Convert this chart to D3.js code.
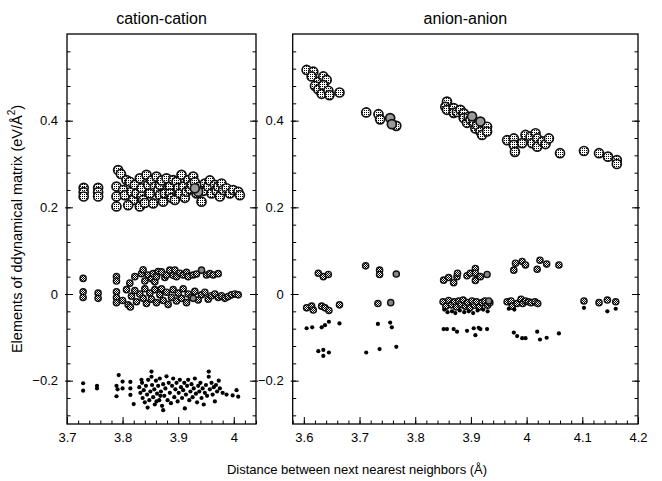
<!DOCTYPE html>
<html>
<head>
<meta charset="utf-8">
<script src="https://cdn.jsdelivr.net/npm/d3@7"></script>
<style>
  body { margin: 0; background: #fff; }
  svg { display: block; font-family: "Liberation Sans", Arial, sans-serif; }
</style>
</head>
<body>
<div id="chart"></div>
<script>
// ---- data: [distance (Å), matrix element (eV/Å^2)] ----
var cationLarge = [
  [3.730,0.245],[3.730,0.235],[3.730,0.225],[3.756,0.245],[3.756,0.235],[3.756,0.225],
  [3.792,0.286],[3.797,0.277],[3.789,0.248],[3.789,0.225],[3.789,0.202],[3.801,0.240],
  [3.804,0.228],[3.807,0.263],[3.813,0.259],[3.816,0.236],[3.819,0.217],[3.822,0.252],
  [3.825,0.232],[3.810,0.205],[3.831,0.267],[3.831,0.202],[3.834,0.244],[3.834,0.225],
  [3.837,0.217],[3.840,0.210],[3.843,0.275],[3.846,0.252],[3.849,0.232],[3.852,0.262],
  [3.855,0.209],[3.858,0.248],[3.861,0.271],[3.864,0.240],[3.867,0.252],[3.867,0.228],
  [3.870,0.262],[3.873,0.213],[3.876,0.232],[3.879,0.267],[3.885,0.248],[3.885,0.232],
  [3.888,0.222],[3.891,0.263],[3.894,0.217],[3.897,0.259],[3.900,0.245],[3.903,0.232],
  [3.906,0.275],[3.909,0.248],[3.912,0.222],[3.915,0.236],[3.918,0.263],[3.921,0.242],
  [3.924,0.252],[3.927,0.271],[3.930,0.258],[3.933,0.232],[3.939,0.248],[3.942,0.213],
  [3.945,0.238],[3.948,0.255],[3.954,0.248],[3.957,0.262],[3.960,0.232],[3.966,0.252],
  [3.969,0.238],[3.972,0.248],[3.975,0.225],[3.978,0.255],[3.981,0.240],[3.987,0.244],
  [3.993,0.232],[3.999,0.240],[4.008,0.236],[4.011,0.228]
];
var cationLargeGrey = [[3.936,0.236],[3.930,0.244]];
var cationMedium = [
  [3.729,0.036],[3.789,0.040],[3.789,0.030],[3.813,0.025],[3.822,0.040],[3.834,0.047],
  [3.837,0.056],[3.840,0.030],[3.846,0.044],[3.852,0.035],[3.855,0.047],[3.858,0.028],
  [3.861,0.040],[3.864,0.052],[3.870,0.051],[3.876,0.038],[3.879,0.044],[3.885,0.055],
  [3.891,0.043],[3.894,0.055],[3.897,0.040],[3.903,0.048],[3.909,0.044],[3.915,0.050],
  [3.918,0.040],[3.927,0.044],[3.933,0.046],[3.951,0.044],[3.957,0.047],[3.963,0.044],
  [3.972,0.047],
  [3.729,0.005],[3.729,-0.008],[3.756,0.002],[3.756,-0.010],[3.789,0.005],[3.789,-0.008],
  [3.789,-0.020],[3.800,-0.015],[3.807,0.010],[3.810,-0.025],[3.814,-0.030],[3.816,-0.005],
  [3.822,0.008],[3.825,-0.018],[3.831,0.000],[3.837,-0.010],[3.840,0.012],[3.843,-0.022],
  [3.849,0.002],[3.852,-0.012],[3.858,0.010],[3.861,-0.020],[3.867,-0.002],[3.870,0.012],
  [3.873,-0.015],[3.879,0.004],[3.882,-0.024],[3.888,-0.008],[3.891,0.010],[3.897,-0.016],
  [3.900,0.002],[3.906,-0.010],[3.909,0.012],[3.915,-0.020],[3.918,0.000],[3.924,-0.008],
  [3.930,0.006],[3.936,-0.014],[3.942,-0.002],[3.948,0.004],[3.954,-0.012],[3.960,-0.004],
  [3.966,0.000],[3.972,-0.008],[3.978,-0.004],[3.984,-0.010],[3.990,-0.006],[3.996,-0.002],
  [4.002,0.000],[4.008,-0.002]
];
var cationMediumGrey = [[3.942,0.055],[3.927,-0.010]];
var cationDots = [
  [3.729,-0.206],[3.729,-0.223],[3.754,-0.212],[3.754,-0.218],[3.789,-0.212],[3.791,-0.220],
  [3.789,-0.236],[3.793,-0.187],[3.800,-0.202],[3.800,-0.218],[3.814,-0.203],[3.814,-0.218],
  [3.814,-0.233],[3.820,-0.254],[3.830,-0.215],[3.832,-0.228],[3.834,-0.198],[3.835,-0.205],
  [3.836,-0.240],[3.838,-0.222],[3.840,-0.250],[3.842,-0.212],[3.844,-0.232],[3.845,-0.262],
  [3.846,-0.198],[3.848,-0.245],[3.850,-0.225],[3.852,-0.179],[3.852,-0.191],[3.853,-0.210],
  [3.855,-0.238],[3.857,-0.220],[3.858,-0.255],[3.860,-0.200],[3.861,-0.248],[3.862,-0.230],
  [3.864,-0.212],[3.866,-0.245],[3.867,-0.195],[3.868,-0.235],[3.869,-0.225],[3.871,-0.258],
  [3.873,-0.268],[3.873,-0.208],[3.875,-0.235],[3.877,-0.218],[3.879,-0.190],[3.881,-0.245],
  [3.883,-0.205],[3.885,-0.228],[3.887,-0.252],[3.889,-0.212],[3.891,-0.195],[3.893,-0.238],
  [3.895,-0.220],[3.897,-0.205],[3.899,-0.248],[3.901,-0.228],[3.903,-0.198],[3.905,-0.215],
  [3.907,-0.240],[3.909,-0.222],[3.911,-0.205],[3.912,-0.264],[3.914,-0.232],[3.916,-0.212],
  [3.918,-0.198],[3.920,-0.245],[3.922,-0.225],[3.924,-0.208],[3.926,-0.238],[3.928,-0.218],
  [3.930,-0.195],[3.932,-0.230],[3.934,-0.250],[3.936,-0.212],[3.938,-0.225],[3.940,-0.205],
  [3.942,-0.240],[3.944,-0.218],[3.946,-0.255],[3.948,-0.228],[3.950,-0.210],[3.952,-0.235],
  [3.955,-0.179],[3.955,-0.191],[3.957,-0.220],[3.960,-0.205],[3.962,-0.232],[3.964,-0.215],
  [3.966,-0.248],[3.968,-0.210],[3.970,-0.225],[3.973,-0.200],[3.975,-0.218],[3.980,-0.228],
  [3.987,-0.232],[3.998,-0.234],[4.005,-0.222],[4.008,-0.237]
];

var anionLarge = [
  [3.605,0.517],[3.617,0.513],[3.614,0.502],[3.626,0.490],[3.635,0.502],[3.641,0.494],
  [3.620,0.480],[3.626,0.472],[3.635,0.482],[3.632,0.462],[3.644,0.469],[3.646,0.459],
  [3.664,0.465],[3.712,0.419],[3.734,0.415],[3.737,0.403],[3.766,0.388],
  [3.857,0.444],[3.854,0.432],[3.857,0.425],[3.869,0.429],[3.869,0.418],[3.875,0.420],
  [3.881,0.425],[3.887,0.417],[3.887,0.406],[3.893,0.395],[3.896,0.409],[3.899,0.402],
  [3.905,0.394],[3.908,0.382],[3.911,0.390],[3.917,0.375],[3.920,0.367],[3.929,0.386],
  [3.929,0.375],
  [3.965,0.355],[3.977,0.359],[3.977,0.344],[3.979,0.328],[3.992,0.348],[3.998,0.367],
  [4.007,0.363],[4.010,0.348],[4.016,0.371],[4.019,0.359],[4.019,0.340],[4.028,0.352],
  [4.034,0.346],[4.040,0.359],[4.060,0.325],[4.103,0.330],[4.130,0.325],[4.146,0.317],
  [4.162,0.309],[4.162,0.300]
];
var anionLargeGrey = [[3.755,0.406],[3.758,0.392],[3.917,0.398],[3.902,0.410]];
var anionMedium = [
  [3.626,0.048],[3.635,0.040],[3.644,0.045],[3.711,0.065],[3.736,0.055],[3.736,0.045],
  [3.851,0.032],[3.860,0.038],[3.869,0.026],[3.875,0.040],[3.876,0.048],[3.893,0.042],
  [3.899,0.048],[3.908,0.059],[3.908,0.048],[3.908,0.031],[3.917,0.040],[3.977,0.055],
  [3.980,0.071],[3.992,0.075],[3.998,0.067],[4.019,0.057],[4.024,0.078],[4.036,0.069],
  [4.058,0.067],
  [3.605,-0.032],[3.614,-0.028],[3.617,-0.037],[3.632,-0.028],[3.638,-0.032],[3.645,-0.038],
  [3.664,-0.025],[3.733,-0.022],[3.850,-0.018],[3.855,-0.028],[3.860,-0.015],[3.865,-0.025],
  [3.870,-0.018],[3.874,-0.030],[3.878,-0.016],[3.882,-0.024],[3.886,-0.014],[3.890,-0.028],
  [3.894,-0.020],[3.898,-0.032],[3.902,-0.016],[3.906,-0.026],[3.910,-0.018],[3.915,-0.030],
  [3.920,-0.020],[3.925,-0.016],[3.930,-0.026],[3.934,-0.020],[3.965,-0.018],[3.972,-0.016],
  [3.974,-0.028],[3.983,-0.022],[3.990,-0.012],[3.993,-0.022],[3.998,-0.016],[4.003,-0.018],
  [4.008,-0.020],[4.015,-0.018],[4.020,-0.022],[4.103,-0.016],[4.130,-0.020],[4.145,-0.014],
  [4.160,-0.018]
];
var anionMediumGrey = [[3.766,0.046],[3.929,0.045],[3.756,-0.020],[3.932,-0.016]];
var anionDots = [
  [3.605,-0.079],[3.615,-0.077],[3.632,-0.077],[3.638,-0.072],[3.645,-0.064],[3.664,-0.068],
  [3.733,-0.069],[3.755,-0.066],[3.758,-0.077],[3.626,-0.132],[3.635,-0.129],[3.645,-0.135],
  [3.635,-0.143],[3.712,-0.135],[3.736,-0.127],[3.766,-0.122],
  [3.851,-0.081],[3.857,-0.081],[3.869,-0.081],[3.875,-0.087],[3.893,-0.085],[3.905,-0.079],
  [3.908,-0.095],[3.914,-0.078],[3.917,-0.081],[3.929,-0.081],[3.977,-0.089],[3.983,-0.097],
  [3.992,-0.102],[3.998,-0.102],[4.019,-0.087],[4.024,-0.105],[4.036,-0.101],[4.058,-0.091],
  [3.852,-0.036],[3.858,-0.042],[3.866,-0.040],[3.872,-0.044],[3.880,-0.038],[3.888,-0.042],
  [3.896,-0.040],[3.904,-0.044],[3.912,-0.038],[3.922,-0.036],[3.930,-0.040],[3.968,-0.034],
  [3.978,-0.036],[4.103,-0.032],[4.145,-0.040],[4.160,-0.034]
];

var yMajor = [-0.2, 0, 0.2, 0.4];
var leftXMajor = [3.7, 3.8, 3.9, 4.0];
var rightXMajor = [3.6, 3.7, 3.8, 3.9, 4.0, 4.1, 4.2];

var width = 662, height = 481;
var plotTop = 34, plotBottom = 424;

const svg = d3.select("#chart")
  .append("svg")
  .attr("width", width)
  .attr("height", height);

// fill patterns for the two kinds of open markers
var defs = svg.append("defs");
var pLight = defs.append("pattern")
  .attr("id", "dotFill").attr("patternUnits", "userSpaceOnUse")
  .attr("width", 2).attr("height", 2);
pLight.append("rect").attr("width", 2).attr("height", 2).attr("fill", "#fff");
pLight.append("rect").attr("width", 1).attr("height", 1).attr("fill", "#000");

var pDark = defs.append("pattern")
  .attr("id", "checkFill").attr("patternUnits", "userSpaceOnUse")
  .attr("width", 2).attr("height", 2);
pDark.append("rect").attr("width", 2).attr("height", 2).attr("fill", "#fff");
pDark.append("rect").attr("width", 1).attr("height", 1).attr("fill", "#000");
pDark.append("rect").attr("x", 1).attr("y", 1).attr("width", 1).attr("height", 1).attr("fill", "#000");

var y = d3.scaleLinear().domain([-0.3, 0.6]).range([plotBottom, plotTop]);
var yMinor = d3.range(-0.28, 0.59, 0.04);

function drawPanel(x0, x1, domain, xMajor, title, sets) {
  var x = d3.scaleLinear().domain(domain).range([x0, x1]);
  var g = svg.append("g");
  var xMinor = d3.range(Math.ceil(domain[0] / 0.02 - 1e-6) * 0.02, domain[1] + 1e-6, 0.02);

  // minor ticks
  g.append("g").attr("transform", `translate(0,${plotBottom})`)
    .call(d3.axisBottom(x).tickValues(xMinor).tickSize(-3.5).tickFormat(""));
  g.append("g").attr("transform", `translate(${x0},0)`)
    .call(d3.axisLeft(y).tickValues(yMinor).tickSize(-3.5).tickFormat(""));
  g.append("g").attr("transform", `translate(${x1},0)`)
    .call(d3.axisRight(y).tickValues(yMinor).tickSize(-3.5).tickFormat(""));

  // major ticks with labels
  g.append("g").attr("transform", `translate(0,${plotBottom})`)
    .call(d3.axisBottom(x).tickValues(xMajor).tickSize(-7).tickPadding(9).tickFormat(d3.format("")));
  var ya = g.append("g").attr("transform", `translate(${x0},0)`)
    .call(d3.axisLeft(y).tickValues(yMajor).tickSize(-6).tickPadding(9).tickFormat(d3.format("")));
  var yr = g.append("g").attr("transform", `translate(${x1},0)`)
    .call(d3.axisRight(y).tickValues(yMajor).tickSize(-6).tickFormat(""));
  ya.selectAll(".tick line").attr("x1", -2);
  yr.selectAll(".tick line").attr("x1", 2);

  g.selectAll(".domain").remove();
  g.selectAll(".tick line").attr("stroke", "#000");
  g.selectAll(".tick text").attr("fill", "#000").attr("font-size", 13)
    .attr("font-family", "Liberation Sans, Arial, sans-serif");

  // frame
  g.append("rect")
    .attr("x", x0).attr("y", plotTop)
    .attr("width", x1 - x0).attr("height", plotBottom - plotTop)
    .attr("fill", "none").attr("stroke", "#000").attr("stroke-width", 1.3);

  g.append("text")
    .attr("x", (x0 + x1) / 2).attr("y", 24)
    .attr("text-anchor", "middle").attr("font-size", 16)
    .text(title);

  var marks = g.append("g");
  function circles(data, r, fill, sw) {
    marks.append("g").selectAll("circle")
      .data(data)
      .join("circle")
        .attr("cx", d => x(d[0]))
        .attr("cy", d => y(d[1]))
        .attr("r", r)
        .attr("fill", fill)
        .attr("stroke", sw ? "#111" : "none")
        .attr("stroke-width", sw);
  }
  circles(sets.large, 4.5, "url(#dotFill)", 1.7);
  circles(sets.largeGrey, 4.5, "#9a9a9a", 1.7);
  circles(sets.medium, 3.1, "url(#checkFill)", 1.4);
  circles(sets.mediumGrey, 3.1, "#888", 1.4);
  circles(sets.dots, 2.1, "#000", 0);
}

drawPanel(67, 256, [3.7, 4.04], leftXMajor, "cation-cation", {
  large: cationLarge, largeGrey: cationLargeGrey,
  medium: cationMedium, mediumGrey: cationMediumGrey, dots: cationDots
});
drawPanel(292.7, 638, [3.58, 4.2], rightXMajor, "anion-anion", {
  large: anionLarge, largeGrey: anionLargeGrey,
  medium: anionMedium, mediumGrey: anionMediumGrey, dots: anionDots
});

// axis titles
svg.append("text")
  .attr("x", 357).attr("y", 474)
  .attr("text-anchor", "middle").attr("font-size", 13)
  .text("Distance between next nearest neighbors (Å)");

var yl = svg.append("text")
  .attr("transform", "translate(22,229) rotate(-90)")
  .attr("text-anchor", "middle").attr("font-size", 14.5);
yl.append("tspan").text("Elements of ddynamical matrix (eV/Å");
yl.append("tspan").attr("dy", -7).attr("font-size", 10).text("2");
yl.append("tspan").attr("dy", 7).text(")");
</script>
</body>
</html>
